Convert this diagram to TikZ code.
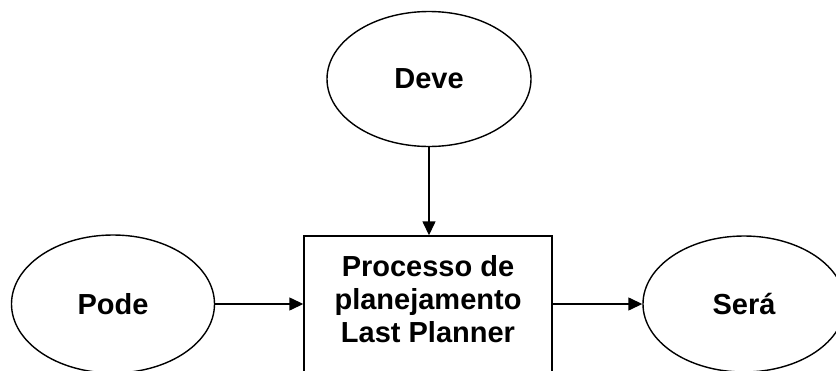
\documentclass[tikz,border=0pt]{standalone}
\usepackage{fontspec}
\setmainfont{Liberation Sans}
\usetikzlibrary{shapes.geometric,arrows.meta}
\begin{document}
\begin{tikzpicture}[x=1pt,y=-1pt,
  every node/.style={font=\fontsize{29}{33}\selectfont\bfseries},
  oval/.style={draw,ellipse,line width=1.4pt,inner sep=0pt},
  box/.style={draw,rectangle,line width=1.4pt,inner sep=0pt,minimum width=248pt,minimum height=136pt},
  link/.style={line width=1.4pt,-{Triangle[length=14pt,width=13pt]}}]
  \useasboundingbox (0,0) rectangle (836,370);
  % planning process box and its label
  \node[box] (plan) at (428,304) {};
  \node[align=center] (plantext) at ([yshift=5pt]plan.center) {Processo de\\planejamento\\Last Planner};
  % the three inputs/outputs
  \node[oval,minimum width=204pt,minimum height=135pt] (deve) at (429,79) {Deve};
  \node[oval,minimum width=203pt,minimum height=138pt] (pode) at (113,304) {Pode};
  \node[oval,minimum width=202pt,minimum height=136pt] (sera) at (744,304) {Será};
  % connectors
  \draw[link] (deve.south) -- (deve.south |- plan.north);
  \draw[link] (pode.east) -- (plan.west);
  \draw[link] (plan.east) -- (sera.west);
\end{tikzpicture}
\end{document}
